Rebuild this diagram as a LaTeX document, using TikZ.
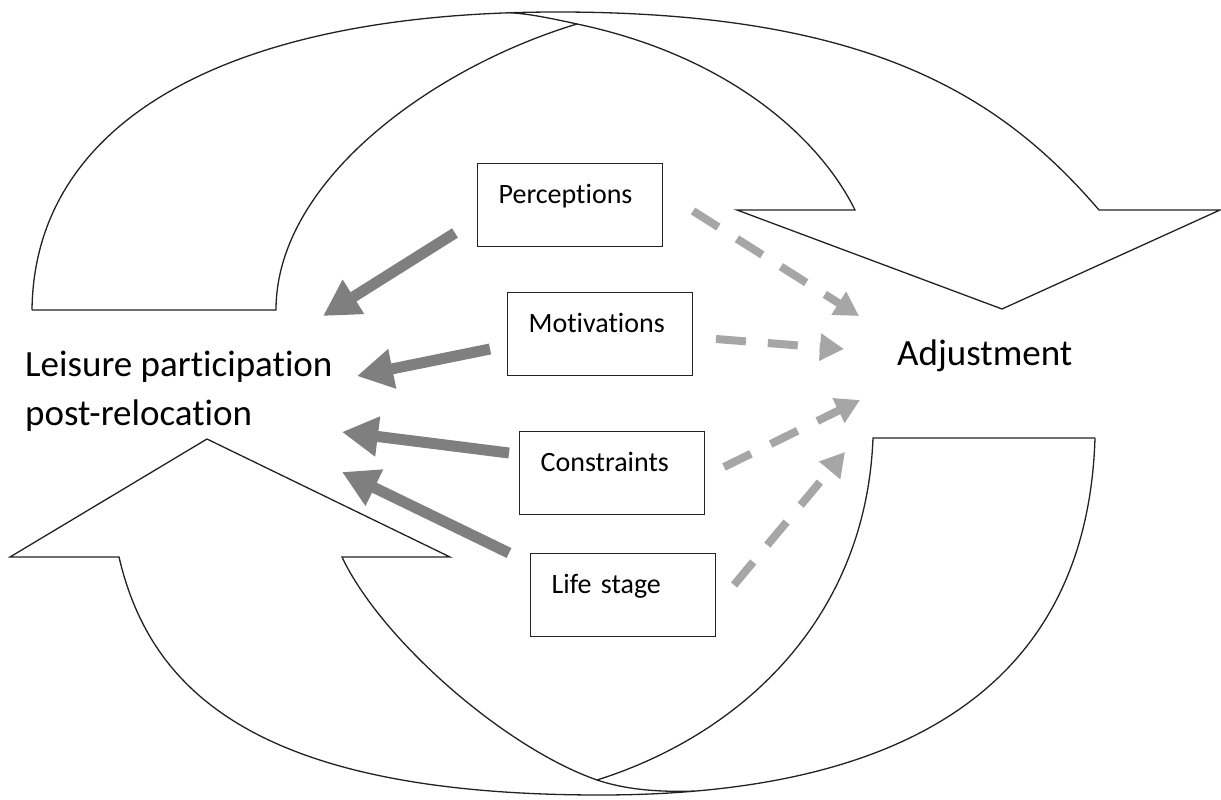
\documentclass[tikz,border=0pt]{standalone}
\usepackage{fontspec}
\setmainfont{Carlito}[Ligatures={NoCommon}]
\usetikzlibrary{arrows.meta}
\definecolor{arrowdark}{HTML}{7F7F7F}
\definecolor{arrowlight}{HTML}{A6A6A6}
\definecolor{outline}{HTML}{222222}
\begin{document}
\begin{tikzpicture}[x=1pt,y=-1pt,
  outl/.style={draw=outline, line width=1.3pt, line join=miter},
  box/.style={draw=outline, line width=1.3pt, text width=143pt, inner xsep=21pt, inner ysep=0pt,
    text height=40pt, text depth=43pt, align=left, font=\fontsize{28}{34}\selectfont, anchor=north west},
  big/.style={font=\fontsize{37}{49}\selectfont, inner sep=0pt},
  solidarr/.style={draw=arrowdark, line width=11pt, -{Triangle[length=36pt,width=38pt]}},
  dasharr/.style={draw=arrowlight, line width=8pt, dash pattern=on 30pt off 22pt, -{Triangle[length=24pt,width=26pt]}},
]
\useasboundingbox[fill=white] (0,0) rectangle (1221,800);

% top curved arrow
\draw[outl] (32,310) .. controls (34,122) and (226,12) .. (557,12)
  .. controls (870,12) and (1001,96) .. (1099,210) -- (1220,210) -- (1002,309) -- (737,210) -- (855,210)
  .. controls (818,135) and (725,55) .. (577,24) .. controls (545,17) and (525,13.2) .. (508,12.8);
\draw[outl] (32,310) -- (276,310) .. controls (276,180) and (434,67) .. (577,24);

% bottom curved arrow
\draw[outl] (1095,438) .. controls (1088,660) and (940,795) .. (600,795)
  .. controls (255,795) and (150,690) .. (119,557) -- (10,557) -- (207,439) -- (450,557) -- (342,557)
  .. controls (380,638) and (503,747) .. (597,780) .. controls (630,791) and (665,792) .. (696,791);
\draw[outl] (1095,438) -- (873,438) .. controls (866,620) and (740,735) .. (597,780);

% boxes
\node[box] (perc) at (477,163) {Perceptions};
\node[box] (moti) at (507,292) {Motivations};
\node[box] (cons) at (519,431) {Constraints};
\node[box] (life) at (530,553) {Life stage};

% labels
\node[big, anchor=base west, align=left] (leis) at (25,425) {Leisure participation\\post-relocation};
\node[big, anchor=base west] (adj) at (897,365) {Adjustment};

% arrow end points
\coordinate (ps) at (455,233); \coordinate (pe) at (323,316);
\coordinate (ms) at (490,349); \coordinate (me) at (357,376);
\coordinate (cs) at (509,453); \coordinate (ce) at (342,432);
\coordinate (ls) at (509,553); \coordinate (le) at (342,472);
\coordinate (pds) at (693,211); \coordinate (pde) at (859,316);
\coordinate (mds) at (716,339); \coordinate (mde) at (844,349);
\coordinate (cds) at (724,467); \coordinate (cde) at (860,400);
\coordinate (lds) at (734,585); \coordinate (lde) at (845,452);

\draw[solidarr] (ps) -- (pe);
\draw[solidarr] (ms) -- (me);
\draw[solidarr] (cs) -- (ce);
\draw[solidarr] (ls) -- (le);

\draw[dasharr] (pds) -- (pde);
\draw[dasharr] (mds) -- (mde);
\draw[dasharr] (cds) -- (cde);
\draw[dasharr] (lds) -- (lde);
\end{tikzpicture}
\end{document}
